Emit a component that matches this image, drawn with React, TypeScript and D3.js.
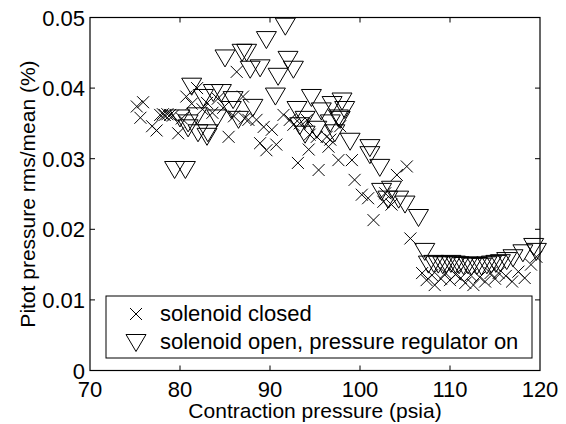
import React from "react";
import * as d3 from "d3";

const closedPressure = [
  75.2, 75.6, 75.9, 76.9, 77.4, 77.8, 78.1, 78.3, 78.6, 78.9, 79.2, 79.8, 80.2, 80.7, 81.3, 81.9,
  82.5, 83.0, 83.6, 84.2, 84.8, 85.4, 86.0, 86.3, 87.0, 87.2, 87.6, 88.5, 88.9, 89.3, 89.6, 90.2,
  90.7, 91.5, 92.2, 92.6, 93.1, 93.3, 94.1, 94.3, 94.4, 95.2, 95.4, 96.3, 96.5, 96.7, 97.6, 97.8,
  99.1, 99.4, 100.2, 100.9, 101.5, 102.6, 102.8, 103.5, 104.1, 105.2, 105.6, 106.9, 107.4, 108.0,
  108.3, 109.0, 109.5, 110.0, 110.6, 111.2, 111.7, 112.3, 112.6, 113.3, 113.9, 114.5, 115.0, 115.4,
  116.2, 116.9, 117.6, 118.3, 119.0, 119.6,
];
const closedValue = [
  0.0374, 0.0358, 0.038, 0.0346, 0.034, 0.0362, 0.0363, 0.0362, 0.0363, 0.0362, 0.0361, 0.0336,
  0.0357, 0.0388, 0.0378, 0.04, 0.037, 0.0379, 0.0365, 0.0385, 0.0372, 0.0331, 0.036, 0.0423,
  0.0388, 0.0357, 0.0355, 0.0355, 0.0322, 0.0345, 0.0312, 0.0341, 0.032, 0.0362, 0.0355, 0.0348,
  0.0294, 0.035, 0.0355, 0.0313, 0.0334, 0.0331, 0.0284, 0.0331, 0.0317, 0.0327, 0.0298, 0.0346,
  0.0298, 0.027, 0.0249, 0.0244, 0.0213, 0.0239, 0.0251, 0.0235, 0.0277, 0.0289, 0.0187, 0.0138,
  0.0128, 0.0135, 0.0121, 0.013, 0.0138, 0.0128, 0.0136, 0.0131, 0.0124, 0.0135, 0.0121, 0.0132,
  0.0126, 0.0138, 0.013, 0.0138, 0.0134, 0.0126, 0.014, 0.0131, 0.015, 0.0161,
];

const openPressure = [
  79.4, 80.6, 80.0, 80.9, 80.9, 81.3, 81.9, 82.0, 82.6, 83.0, 83.1, 83.7, 84.1, 84.6, 85.0, 85.7,
  85.9, 86.5, 86.9, 87.4, 87.8, 88.1, 88.9, 89.6, 90.6, 90.9, 91.7, 92.0, 92.6, 93.0, 93.3, 93.9,
  93.9, 94.6, 95.2, 95.7, 96.7, 96.9, 97.2, 97.6, 97.8, 98.0, 98.3, 98.9, 101.1, 101.1, 102.2,
  102.4, 103.1, 103.5, 104.3, 105.0, 106.5, 107.2, 107.6, 108.2, 108.7, 109.2, 109.6, 110.1, 110.6,
  111.0, 111.5, 112.0, 112.4, 113.0, 113.5, 114.1, 114.6, 115.1, 115.6, 116.3, 117.0, 118.1, 119.3,
  119.6,
];
const openValue = [
  0.0284, 0.0284, 0.0357, 0.035, 0.0343, 0.0402, 0.036, 0.0336, 0.0386, 0.0331, 0.0336, 0.0393,
  0.0357, 0.0393, 0.0442, 0.0369, 0.0383, 0.0355, 0.045, 0.045, 0.0426, 0.0372, 0.0428, 0.0468,
  0.0388, 0.0416, 0.0487, 0.044, 0.0426, 0.0369, 0.0346, 0.0355, 0.0334, 0.0386, 0.0341, 0.0367,
  0.035, 0.0376, 0.0336, 0.0357, 0.0355, 0.0381, 0.0369, 0.0324, 0.0315, 0.0305, 0.0287, 0.0253,
  0.0242, 0.0256, 0.0242, 0.0235, 0.0216, 0.0168, 0.015, 0.0151, 0.015, 0.0149, 0.015, 0.0151,
  0.015, 0.0149, 0.0148, 0.0149, 0.0147, 0.0148, 0.0147, 0.0149, 0.015, 0.0151, 0.0152, 0.0155,
  0.0159, 0.0166, 0.0175, 0.0168,
];

const xTicks = [70, 80, 90, 100, 110, 120];
const yTicks = [0, 0.01, 0.02, 0.03, 0.04, 0.05];
const yTickLabels = ["0", "0.01", "0.02", "0.03", "0.04", "0.05"];
const legendLabels = ["solenoid closed", "solenoid open, pressure regulator on"];
const xTitle = "Contraction pressure (psia)";
const yTitle = "Pitot pressure rms/mean (%)";

const W = 566;
const H = 424;
const L = 90;
const R = 540;
const T = 17.5;
const B = 370.5;
const FONT = "'Liberation Sans', Arial, Helvetica, sans-serif";
const FS = 22;
const FS_TITLE = 21;

const crossPath = (s: number) => `M${-s},${-s}L${s},${s}M${-s},${s}L${s},${-s}`;
const triPath = "M-10,-8.5L10,-8.5L0,8.5Z";

export default function App() {
  const x = d3.scaleLinear().domain([70, 120]).range([L, R]);
  const y = d3.scaleLinear().domain([0, 0.05]).range([B, T]);
  const tick = 5;

  return (
    <svg
      width={W}
      height={H}
      style={{ position: "fixed", left: 0, top: 0, background: "#fff" }}
      fontFamily={FONT}
    >
      <rect x={0} y={0} width={W} height={H} fill="#fff" />
      <g fill="none" stroke="#000" strokeWidth={1}>
        {closedPressure.map((p, i) => (
          <path key={"c" + i} d={crossPath(6)} transform={`translate(${x(p)},${y(closedValue[i])})`} />
        ))}
        {openPressure.map((p, i) => (
          <path key={"o" + i} d={triPath} transform={`translate(${x(p)},${y(openValue[i])})`} />
        ))}
      </g>
      <rect x={L} y={T} width={R - L} height={B - T} fill="none" stroke="#000" strokeWidth={1.2} />
      <g stroke="#000" strokeWidth={1}>
        {xTicks.slice(1, -1).map((t) => (
          <g key={"xt" + t}>
            <line x1={x(t)} x2={x(t)} y1={B} y2={B - tick} />
            <line x1={x(t)} x2={x(t)} y1={T} y2={T + tick} />
          </g>
        ))}
        {yTicks.slice(1, -1).map((t) => (
          <g key={"yt" + t}>
            <line x1={L} x2={L + tick} y1={y(t)} y2={y(t)} />
            <line x1={R} x2={R - tick} y1={y(t)} y2={y(t)} />
          </g>
        ))}
      </g>
      <g fill="#000">
        {xTicks.map((t) => (
          <text key={"xl" + t} x={x(t)} y={397} textAnchor="middle" fontSize={FS}>
            {t}
          </text>
        ))}
        {yTicks.map((t, i) => (
          <text key={"yl" + t} x={85} y={y(t) + 8} textAnchor="end" fontSize={FS}>
            {yTickLabels[i]}
          </text>
        ))}
        <text x={(L + R) / 2} y={418} textAnchor="middle" fontSize={FS_TITLE}>
          {xTitle}
        </text>
        <text
          transform={`translate(35,${(T + B) / 2}) rotate(-90)`}
          textAnchor="middle"
          fontSize={FS_TITLE}
        >
          {yTitle}
        </text>
      </g>
      <rect x={106} y={296} width={426} height={62} fill="#fff" stroke="#000" strokeWidth={1} />
      <path d={crossPath(6)} transform="translate(136,314)" fill="none" stroke="#000" />
      <path d={triPath} transform="translate(136,343)" fill="none" stroke="#000" />
      <text x={160} y={321} fontSize={FS}>
        {legendLabels[0]}
      </text>
      <text x={160} y={349} fontSize={FS}>
        {legendLabels[1]}
      </text>
    </svg>
  );
}
